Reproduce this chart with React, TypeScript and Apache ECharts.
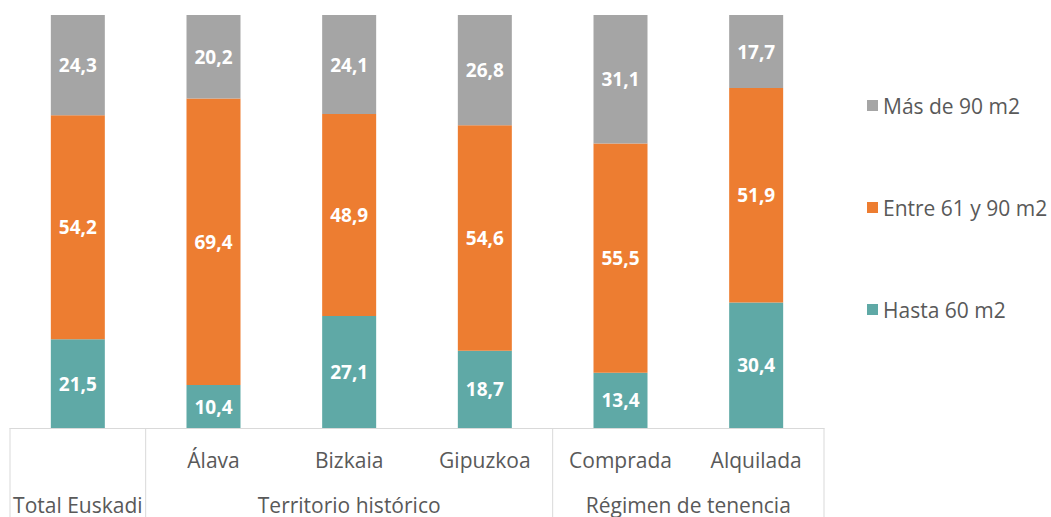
import React, { useEffect, useRef } from "react";
import * as echarts from "echarts";

const categories = ["Total Euskadi", "Álava", "Bizkaia", "Gipuzkoa", "Comprada", "Alquilada"];
const hasta60 = [21.5, 10.4, 27.1, 18.7, 13.4, 30.4];
const entre61y90 = [54.2, 69.4, 48.9, 54.6, 55.5, 51.9];
const mas90 = [24.3, 20.2, 24.1, 26.8, 31.1, 17.7];
const groups = [
  { name: "Total Euskadi", from: 0, to: 0 },
  { name: "Territorio histórico", from: 1, to: 3 },
  { name: "Régimen de tenencia", from: 4, to: 5 },
];
const seriesNames = ["Hasta 60 m2", "Entre 61 y 90 m2", "Más de 90 m2"];

const FONT = "'Open Sans', 'Noto Sans', sans-serif";
const TEXT = "#595959";
const LINE = "#D9D9D9";

export default function App() {
  const ref = useRef<HTMLDivElement>(null);
  useEffect(() => {
    document.body.style.margin = "0";
    const chart = echarts.init(ref.current!, null, { renderer: "svg" });
    const fmt = (p: any) => String(p.value).replace(".", ",");
    const label = {
      show: true,
      color: "#FFFFFF",
      fontWeight: "bold" as const,
      fontSize: 19,
      fontFamily: FONT,
      formatter: fmt,
    };
    chart.setOption({
      animation: false,
      textStyle: { fontFamily: FONT },
      grid: { left: 10, right: 227, top: 15, bottom: 89, containLabel: false },
      legend: {
        orient: "vertical",
        left: 862,
        top: 90,
        itemWidth: 11,
        itemHeight: 11,
        itemGap: 81,
        icon: "rect",
        data: [seriesNames[2], seriesNames[1], seriesNames[0]],
        textStyle: { color: TEXT, fontSize: 21, fontFamily: FONT, lineHeight: 21 },
      },
      xAxis: {
        type: "category",
        data: categories,
        axisLine: { lineStyle: { color: LINE } },
        axisTick: { show: false },
        axisLabel: {
          color: TEXT,
          fontSize: 21,
          fontFamily: FONT,
          margin: 21,
          formatter: (v: string, i: number) => (i === 0 ? "" : v),
        },
      },
      yAxis: { type: "value", min: 0, max: 100, show: false, splitLine: { show: false } },
      series: [
        { name: seriesNames[0], type: "bar", stack: "a", data: hasta60, barWidth: 54, itemStyle: { color: "#5FA9A6" }, label },
        { name: seriesNames[1], type: "bar", stack: "a", data: entre61y90, barWidth: 54, itemStyle: { color: "#ED7D31" }, label },
        { name: seriesNames[2], type: "bar", stack: "a", data: mas90, barWidth: 54, itemStyle: { color: "#A5A5A5" }, label },
      ],
    });
    // multi-level axis decorations computed from the category scale
    const c0 = chart.convertToPixel({ xAxisIndex: 0 }, categories[0]) as number;
    const c1 = chart.convertToPixel({ xAxisIndex: 0 }, categories[1]) as number;
    const band = c1 - c0;
    const axisY = chart.convertToPixel({ yAxisIndex: 0 }, 0) as number;
    const edge = (i: number) => c0 + (i - 0.5) * band;
    const elements: any[] = [];
    const bounds = new Set<number>();
    groups.forEach((g) => {
      bounds.add(g.from);
      bounds.add(g.to + 1);
    });
    bounds.forEach((b) => {
      elements.push({
        type: "line",
        shape: { x1: edge(b), y1: axisY, x2: edge(b), y2: 517 },
        style: { stroke: LINE, lineWidth: 1 },
      });
    });
    groups.forEach((g) => {
      const cx = (edge(g.from) + edge(g.to + 1)) / 2;
      elements.push({
        type: "text",
        x: cx,
        y: 505,
        style: {
          text: g.name,
          fill: TEXT,
          font: `21px ${FONT}`,
          textAlign: "center",
          textVerticalAlign: "middle",
        },
      });
    });
    chart.setOption({ graphic: elements });
    return () => chart.dispose();
  }, []);
  return <div ref={ref} style={{ width: 1051, height: 517 }} />;
}
